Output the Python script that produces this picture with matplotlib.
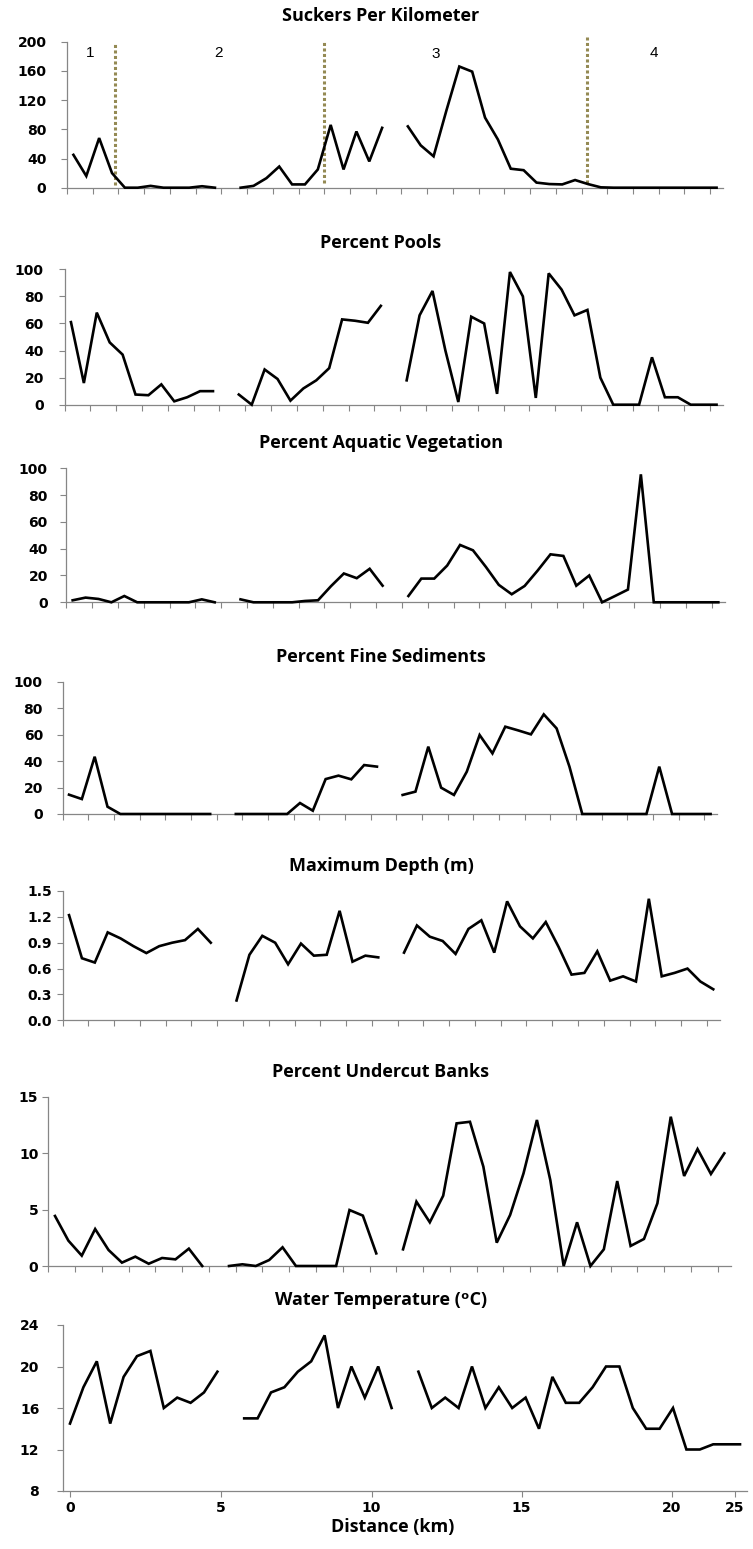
import numpy as np
import matplotlib
matplotlib.use("Agg")
import matplotlib.pyplot as plt
from matplotlib.ticker import FormatStrFormatter

# survey sites along the stream, in order (None = no survey)
sites = np.arange(51)

suckers = [45, 16, 68, 20, 0, 0, 2.5, 0, 0, 0, 2, 0, None,
           0, 2.5, 13, 29, 4.5, 4.5, 25, 86, 25, 77, 36, 82, None,
           84, 58, 43, 106, 166, 159, 96, 66, 26, 24, 7, 5, 4.5, 10.5, 5, 0.5,
           0, 0, 0, 0, 0, 0, 0, 0, 0]
pools = [61, 16, 68, 46, 37, 7.5, 7, 15, 2.5, 5.5, 10, 10, None,
         7.5, 0, 26, 19, 3, 12, 18, 27, 63, 62, 60.5, 73, None,
         18, 66, 84, 40, 2, 65, 60, 8, 98, 80, 5, 97, 85, 66, 70, 20,
         0, 0, 0, 35, 5.5, 5.5, 0, 0, 0]
vegetation = [1.5, 3.5, 2.5, 0, 4.7, 0, 0, 0, 0, 0, 2.2, 0, None,
              2.2, 0, 0, 0, 0, 1, 1.5, 12, 21.5, 18, 25, 12.4, None,
              4.7, 17.7, 17.7, 27.4, 42.8, 38.8, 26.4, 13, 6, 12.2, 23.6, 35.8, 34.6,
              12.4, 20, 0, 4.7, 9.5, 95.5, 0, 0, 0, 0, 0, 0]
fines = [14.6, 11.3, 43.3, 5.5, 0, 0, 0, 0, 0, 0, 0, 0, None,
         0, 0, 0, 0, 0, 8.3, 2.5, 26.4, 29, 26.2, 37, 35.8, None,
         14.4, 16.9, 50.9, 19.9, 14.4, 32, 59.7, 45.8, 66, 63.2, 60.2, 75.3, 64.7,
         35.8, 0, 0, 0, 0, 0, 0, 35.8, 0, 0, 0, 0]
depth = [1.22, 0.72, 0.67, 1.02, 0.95, 0.86, 0.78, 0.86, 0.90, 0.93, 1.06, 0.90, None,
         0.23, 0.76, 0.98, 0.90, 0.65, 0.89, 0.75, 0.76, 1.27, 0.68, 0.75, 0.73, None,
         0.785, 1.10, 0.97, 0.92, 0.77, 1.06, 1.16, 0.785, 1.38, 1.09, 0.95, 1.14, 0.85,
         0.53, 0.55, 0.80, 0.46, 0.51, 0.45, 1.41, 0.51, 0.55, 0.60, 0.45, 0.36]
undercut = [4.44, 2.25, 0.92, 3.28, 1.42, 0.3, 0.83, 0.2, 0.71, 0.59, 1.54, 0, None,
            0, 0.15, 0, 0.53, 1.66, 0, 0, 0, 0, 4.97, 4.47, 1.12, None,
            1.48, 5.71, 3.88, 6.24, 12.66, 12.8, 8.82, 2.07, 4.53, 8.22, 12.96, 7.63, 0,
            3.88, 0, 1.48, 7.54, 1.78, 2.4, 5.56, 13.25, 7.99, 10.38, 8.17, 10.0]
water_temp = [14.5, 18, 20.5, 14.5, 19, 21, 21.5, 16, 17, 16.5, 17.5, 19.5, None,
              15, 15, 17.5, 18, 19.5, 20.5, 23, 16, 20, 17, 20, 16, None,
              19.5, 16, 17, 16, 20, 16, 18, 16, 17, 14, 19, 16.5, 16.5, 18, 20, 20,
              16, 14, 14, 16, 12, 12, 12.5, 12.5, 12.5]

# reach boundaries and reach numbers on the sucker panel
reach_breaks = [3.24, 19.48, 39.94]
reach_names = ["1", "2", "3", "4"]
reach_label_sites = [1.3, 11.27, 28.16, 45.1]

# distance labels along the bottom axis
km_labels = ["0", "5", "10", "15", "20", "25"]
km_label_sites = [0, 11.27, 22.5, 33.7, 44.9, 49.6]

W, H = 753, 1549
fig = plt.figure(figsize=(W / 100, H / 100), dpi=100)

TITLE_FONT = ["Open Sans", "DejaVu Sans"]
AXIS_GREY = "#868686"


def px_axes(left, right, top, bottom):
    return fig.add_axes([left / W, 1 - bottom / H, (right - left) / W, (bottom - top) / H])


def panel(values, box, ylim, yticks, title, title_y, fmt="%d", gap=20):
    ax = px_axes(*box)
    y = np.array([np.nan if v is None else v for v in values], dtype=float)
    ax.plot(sites, y, color="black", lw=1.9, solid_joinstyle="miter", clip_on=False, zorder=3)
    ax.set_xlim(-0.5, 50.5)
    ax.set_ylim(*ylim)
    ax.set_yticks(yticks)
    ax.yaxis.set_major_formatter(FormatStrFormatter(fmt))
    ax.set_xticks(np.arange(-0.5, 51, 2))
    ax.set_xticklabels([])
    for s in ("top", "right"):
        ax.spines[s].set_visible(False)
    for s in ("left", "bottom"):
        ax.spines[s].set_color(AXIS_GREY)
        ax.spines[s].set_linewidth(0.9)
    ax.tick_params(axis="both", direction="out", length=4.3, width=0.8, color=AXIS_GREY)
    ax.tick_params(axis="y", pad=(gap - 6) * 0.72)
    for lab in ax.get_yticklabels():
        lab.set_fontfamily("DejaVu Sans")
        lab.set_fontweight("bold")
        lab.set_fontsize(10)
    fig.text(381 / W, 1 - title_y / H, title, ha="center", va="center",
             family=TITLE_FONT, fontweight="bold", fontsize=13)
    return ax


ax1 = panel(suckers, (67, 723, 41.7, 187.7), (0, 200), range(0, 201, 40),
            "Suckers Per Kilometer", 16, gap=20.6)
ax1.vlines(reach_breaks, [4, 7, 7], [198, 202, 206], colors="#948A54",
           linestyles=(0, (1, 0.8)), lw=2.2, clip_on=False, zorder=2)
for name, xs, ys in zip(reach_names, reach_label_sites, [185, 185, 182.6, 184]):
    ax1.text(xs, ys, name, ha="center", va="center", fontsize=11,
             family="Liberation Sans")

panel(pools, (64.5, 723, 269.3, 404.7), (0, 100), range(0, 101, 20),
      "Percent Pools", 243, gap=20.7)
panel(vegetation, (66.2, 724.8, 468.3, 602.3), (0, 100), range(0, 101, 20),
      "Percent Aquatic Vegetation", 443, gap=18.4)
panel(fines, (62.6, 717, 681.7, 814), (0, 100), range(0, 101, 20),
      "Percent Fine Sediments", 657, gap=19.7)
panel(depth, (62.6, 719.7, 891, 1020.3), (0, 1.5), np.arange(0, 1.51, 0.3),
      "Maximum Depth (m)", 866, fmt="%.1f", gap=10.6)
panel(undercut, (48.3, 731, 1097, 1266), (0, 15), range(0, 16, 5),
      "Percent Undercut Banks", 1072, gap=10)
ax7 = panel(water_temp, (63.3, 746.7, 1325, 1491), (8, 24), range(8, 25, 4),
            "Water Temperature (\u1d52C)", 1300, gap=24)
ax7.set_xticks(km_label_sites)
ax7.set_xticklabels(km_labels, fontfamily="DejaVu Sans", fontweight="bold", fontsize=10)
ax7.tick_params(axis="x", pad=3)
fig.text(393 / W, 1 - 1527 / H, "Distance (km)", ha="center", va="center",
         family=TITLE_FONT, fontweight="bold", fontsize=13)

fig.savefig("out.png", dpi=100)
